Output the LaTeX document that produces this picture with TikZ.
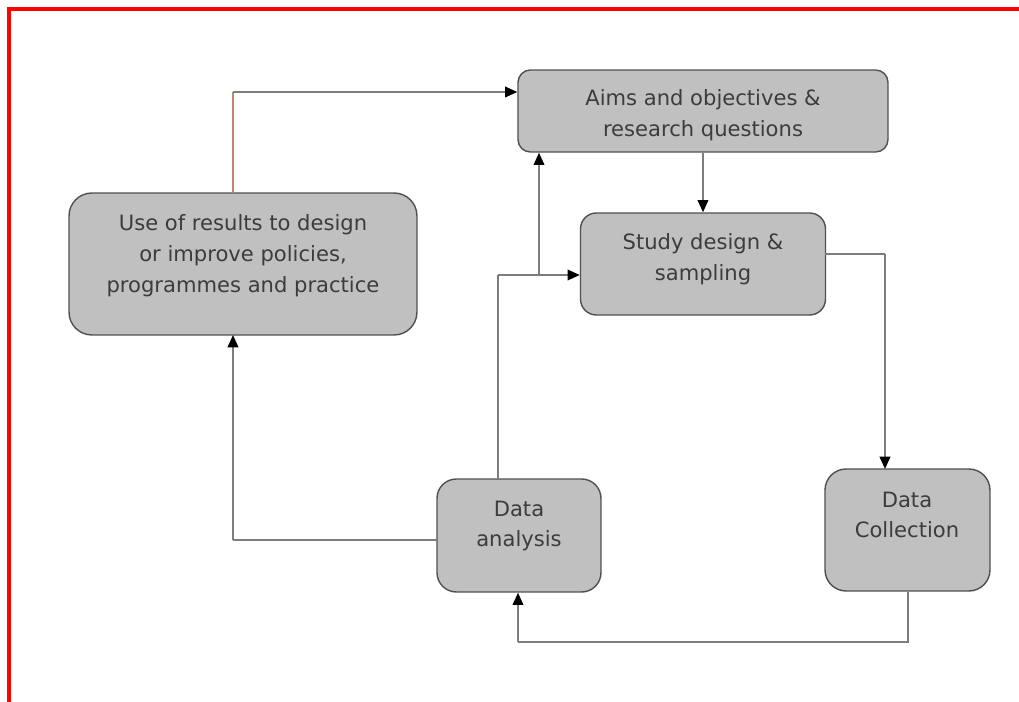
\documentclass[tikz,border=0pt]{standalone}
\usepackage{fontspec}
\setmainfont{DejaVu Sans}
\usetikzlibrary{arrows.meta}

\definecolor{boxgray}{RGB}{192,192,192}
\definecolor{edgegray}{RGB}{80,80,80}
\definecolor{linegray}{RGB}{125,125,125}
\definecolor{textgray}{RGB}{60,60,60}
\definecolor{rustline}{RGB}{190,135,115}

\tikzset{
  stage/.style={draw=edgegray, line width=0.8pt, fill=boxgray, rounded corners=#1},
  stage/.default=6pt,
  stagetext/.style={align=center, text=textgray, font=\fontsize{12}{17.6}\selectfont, inner sep=0pt},
  flow/.style={draw=linegray, line width=1.2pt, -{Triangle[length=7pt, width=6pt, black]}},
  plain/.style={draw=linegray, line width=1.2pt},
}

\begin{document}
\begin{tikzpicture}[x=0.02cm, y=-0.02cm]
  \useasboundingbox (0,0) rectangle (1019,702);
  % frame
  \draw[red, line width=2pt] (9,702) -- (9,9) -- (1019,9);

  % boxes
  \node[stage=7pt, minimum width=7.4cm, minimum height=1.64cm] (aims) at (703,111) {};
  \node[stage=13pt, minimum width=6.96cm, minimum height=2.84cm] (use) at (243,264) {};
  \node[stage=9pt, minimum width=4.9cm, minimum height=2.04cm] (study) at (703,264) {};
  \node[stage=11pt, minimum width=3.28cm, minimum height=2.26cm] (anal) at (519,535.5) {};
  \node[stage=12pt, minimum width=3.3cm, minimum height=2.44cm] (coll) at (907.5,530) {};

  \node[stagetext] (aims-t) at (703,115) {Aims and objectives \&\\research questions};
  \node[stagetext] (use-t) at (243,256) {Use of results to design\\or improve policies,\\programmes and practice};
  \node[stagetext] (study-t) at (703,259) {Study design \&\\sampling};
  \node[stagetext] (anal-t) at (519,526) {Data\\analysis};
  \node[stagetext] (coll-t) at (907,515) {Data\\Collection};

  % bends
  \coordinate (use-n) at (233,193);
  \coordinate (use-s) at (233,335);
  \coordinate (k1) at (233,92);
  \coordinate (study-e) at (825,254);
  \coordinate (k2) at (885,254);
  \coordinate (coll-n) at (885,469);
  \coordinate (k3) at (908,642);
  \coordinate (k4) at (518,642);
  \coordinate (anal-n) at (498,479);
  \coordinate (k5) at (498,275);
  \coordinate (k6) at (539,275);
  \coordinate (anal-w) at (437,540);
  \coordinate (k7) at (233,540);

  % connectors
  \draw[rustline, line width=1.2pt] (use-n) -- (k1);
  \draw[flow] (k1) -- (k1 -| aims.west);
  \draw[flow] (aims.south) -- (study.north);
  \draw[plain] (study-e) -- (k2);
  \draw[flow] (k2) -- (coll-n);
  \draw[plain] (coll.south -| k3) -- (k3) -- (k4);
  \draw[flow] (k4) -- (k4 |- anal.south);
  \draw[plain] (anal-n) -- (k5);
  \draw[flow] (k5) -- (k5 -| study.west);
  \draw[flow] (k6) -- (k6 |- aims.south);
  \draw[plain] (anal-w) -- (k7);
  \draw[flow] (k7) -- (use-s);
\end{tikzpicture}
\end{document}
